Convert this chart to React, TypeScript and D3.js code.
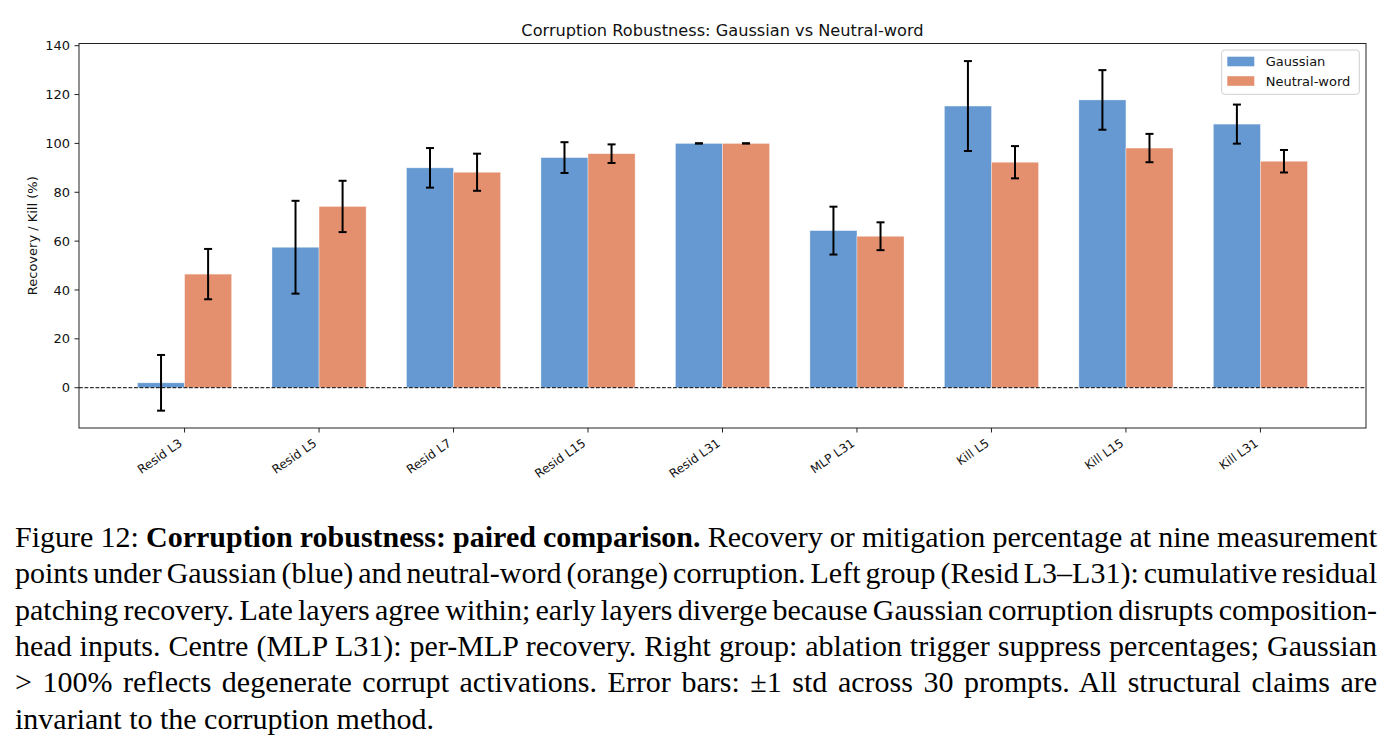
import React, { useRef, useEffect } from "react";
import * as d3 from "d3";

const categories = [
  "Resid L3", "Resid L5", "Resid L7", "Resid L15", "Resid L31",
  "MLP L31", "Kill L5", "Kill L15", "Kill L31",
];
const gaussianMean = [2.0, 57.5, 90.0, 94.2, 100.0, 64.3, 115.3, 117.8, 107.9];
const gaussianStd = [11.4, 19.0, 8.1, 6.3, 0.0, 9.8, 18.4, 12.2, 8.0];
const neutralMean = [46.5, 74.2, 88.2, 95.8, 100.0, 62.0, 92.3, 98.1, 92.7];
const neutralStd = [10.3, 10.5, 7.6, 3.8, 0.0, 5.7, 6.6, 5.8, 4.6];
const yTicks = [0, 20, 40, 60, 80, 100, 120, 140];

const seriesNames = ["Gaussian", "Neutral-word"];
const seriesColors = ["#6699d1", "#e4906f"];

// caption lines, each a list of [text, bold] runs
const captionLines: [string, boolean][][] = [
  [["Figure 12: ", false], ["Corruption robustness: paired comparison.", true], [" Recovery or mitigation percentage at nine measurement", false]],
  [["points under Gaussian (blue) and neutral-word (orange) corruption. Left group (Resid L3\u2013L31): cumulative residual", false]],
  [["patching recovery. Late layers agree within; early layers diverge because Gaussian corruption disrupts composition-", false]],
  [["head inputs. Centre (MLP L31): per-MLP recovery. Right group: ablation trigger suppress percentages; Gaussian", false]],
  [["> 100% reflects degenerate corrupt activations. Error bars: \u00b11 std across 30 prompts. All structural claims are", false]],
  [["invariant to the corruption method.", false]],
];

const W = 1397;
const H = 748;

export default function App() {
  const ref = useRef<SVGSVGElement>(null);

  useEffect(() => {
    document.body.style.margin = "0";
    const svg = d3.select(ref.current);
    svg.selectAll("*").remove();

    const left = 79, right = 1366, top = 43.5, bottom = 428;
    const barW = 0.35;

    const x = d3.scaleLinear().domain([-0.785, 8.785]).range([left, right]);
    const y = d3.scaleLinear().domain([-16.5, 140.9]).range([bottom, top]);

    const g = svg.append("g").attr("font-family", "DejaVu Sans, sans-serif");

    // bars
    const series = [
      { mean: gaussianMean, std: gaussianStd, offset: -barW },
      { mean: neutralMean, std: neutralStd, offset: 0 },
    ];
    series.forEach((s, si) => {
      g.append("g")
        .selectAll("rect")
        .data(s.mean)
        .enter()
        .append("rect")
        .attr("x", (_, i) => x(i + s.offset))
        .attr("width", x(barW) - x(0))
        .attr("y", d => Math.min(y(d), y(0)))
        .attr("height", d => Math.abs(y(0) - y(d)))
        .attr("fill", seriesColors[si])
        .attr("stroke", "#ffffff")
        .attr("stroke-opacity", 0.6)
        .attr("stroke-width", 0.6);
    });

    // zero line
    g.append("line")
      .attr("x1", left).attr("x2", right)
      .attr("y1", y(0)).attr("y2", y(0))
      .attr("stroke", "#000")
      .attr("stroke-width", 1)
      .attr("stroke-dasharray", "3.8,1.7");

    // error bars
    const cap = 4;
    series.forEach(s => {
      const eb = g.append("g").attr("stroke", "#000").attr("stroke-width", 2);
      s.mean.forEach((m, i) => {
        const cx = x(i + s.offset + barW / 2);
        const lo = y(m - s.std[i]);
        const hi = y(m + s.std[i]);
        eb.append("line").attr("x1", cx).attr("x2", cx).attr("y1", lo).attr("y2", hi);
        eb.append("line").attr("x1", cx - cap).attr("x2", cx + cap).attr("y1", lo).attr("y2", lo);
        eb.append("line").attr("x1", cx - cap).attr("x2", cx + cap).attr("y1", hi).attr("y2", hi);
      });
    });

    // frame
    g.append("rect")
      .attr("x", left).attr("y", top)
      .attr("width", right - left).attr("height", bottom - top)
      .attr("fill", "none")
      .attr("stroke", "#222")
      .attr("stroke-width", 1);

    // y axis
    const yAxis = g.append("g");
    yTicks.forEach(t => {
      yAxis.append("line")
        .attr("x1", left - 4.5).attr("x2", left)
        .attr("y1", y(t)).attr("y2", y(t))
        .attr("stroke", "#222");
      yAxis.append("text")
        .attr("x", left - 9)
        .attr("y", y(t))
        .attr("dy", "0.35em")
        .attr("text-anchor", "end")
        .attr("font-size", 13)
        .attr("fill", "#111")
        .text(t);
    });

    g.append("text")
      .attr("transform", `translate(32,${(top + bottom) / 2}) rotate(-90)`)
      .attr("text-anchor", "middle")
      .attr("dominant-baseline", "central")
      .attr("font-size", 13)
      .attr("fill", "#111")
      .text("Recovery / Kill (%)");

    // x axis
    categories.forEach((c, i) => {
      const tx = x(i);
      g.append("line")
        .attr("x1", tx).attr("x2", tx)
        .attr("y1", bottom).attr("y2", bottom + 4.5)
        .attr("stroke", "#222");
      g.append("text")
        .attr("transform", `translate(${tx - 1.5},${bottom + 17}) rotate(-35)`)
        .attr("text-anchor", "end")
        .attr("font-size", 12.1)
        .attr("fill", "#111")
        .text(c);
    });

    // title
    g.append("text")
      .attr("x", (left + right) / 2)
      .attr("y", 36)
      .attr("text-anchor", "middle")
      .attr("font-size", 16.2)
      .attr("fill", "#111")
      .text("Corruption Robustness: Gaussian vs Neutral-word");

    // legend
    const legend = g.append("g").attr("transform", "translate(1221.7,50)");
    legend.append("rect")
      .attr("width", 137.6).attr("height", 44.3)
      .attr("rx", 3)
      .attr("fill", "#fff")
      .attr("fill-opacity", 0.8)
      .attr("stroke", "#d0d0d0");
    seriesNames.forEach((name, i) => {
      const ly = 11.5 + i * 19.5;
      legend.append("rect")
        .attr("x", 5.6).attr("y", ly - 4.8)
        .attr("width", 27).attr("height", 9.6)
        .attr("fill", seriesColors[i]);
      legend.append("text")
        .attr("x", 44)
        .attr("y", ly)
        .attr("dy", "0.36em")
        .attr("font-size", 13)
        .attr("fill", "#111")
        .text(name);
    });

    // caption, justified between capLeft and capRight
    const capLeft = 15, capRight = 1377;
    const cap0 = 547, lineGap = 36.3;
    const capG = svg.append("g")
      .attr("font-family", "Liberation Serif, Times New Roman, serif")
      .attr("font-size", 30)
      .attr("fill", "#000");
    captionLines.forEach((runs, li) => {
      const t = capG.append("text")
        .attr("x", capLeft)
        .attr("y", cap0 + li * lineGap)
        .attr("xml:space", "preserve");
      runs.forEach(([txt, bold]) => {
        t.append("tspan")
          .attr("font-weight", bold ? "bold" : "normal")
          .text(txt);
      });
      if (li < captionLines.length - 1) {
        const full = runs.map(r => r[0]).join("");
        const spaces = (full.match(/ /g) || []).length;
        const natural = (t.node() as SVGTextElement).getComputedTextLength();
        const extra = (capRight - capLeft - natural) / spaces;
        t.style("word-spacing", `${extra}px`);
      }
    });
  }, []);

  return (
    <svg
      ref={ref}
      width={W}
      height={H}
      style={{ display: "block", background: "#fff" }}
    />
  );
}
